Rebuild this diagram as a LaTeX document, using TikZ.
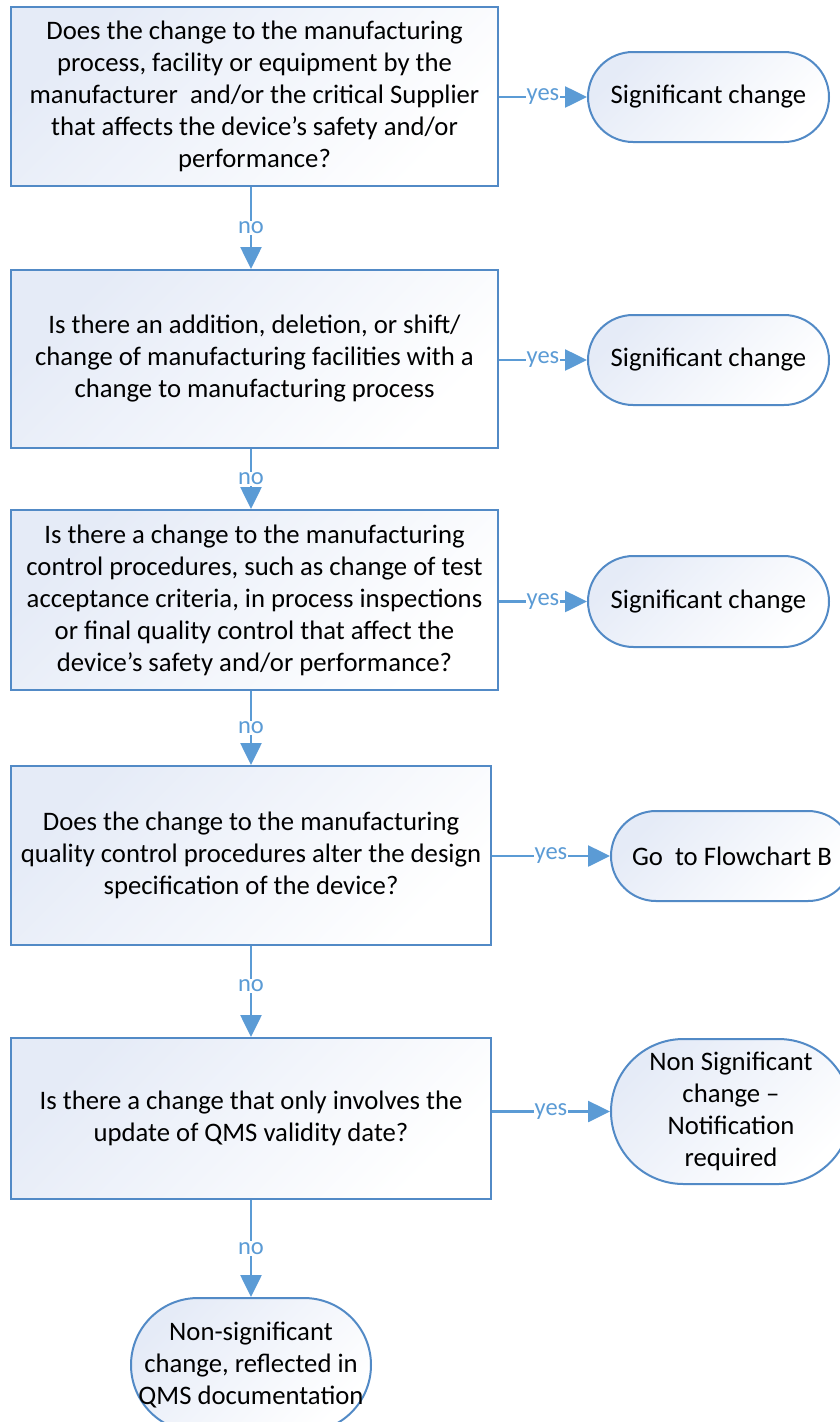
\documentclass[tikz,border=0pt]{standalone}
\usepackage{fontspec}
\setmainfont{Carlito}
\usetikzlibrary{arrows.meta}
\definecolor{linkblue}{RGB}{91,155,213}
\definecolor{edgeblue}{RGB}{82,138,198}
\definecolor{tintblue}{RGB}{229,235,247}

\begin{document}
\begin{tikzpicture}[x=1pt,y=-1pt,
  question/.style={draw=edgeblue, line width=2pt, rectangle,
    top color=tintblue, bottom color=white, shading angle=45,
    align=center, font=\fontsize{26.7}{32}\selectfont, inner sep=0pt},
  % stadium shape: corner radius is half the height
  outcome/.style={draw=edgeblue, line width=2pt, rectangle, rounded corners=#1,
    top color=tintblue, bottom color=white, shading angle=45,
    align=center, font=\fontsize{26.7}{32}\selectfont, inner sep=0pt},
  flow/.style={draw=linkblue, line width=2.6pt, -{Triangle[length=22pt,width=21pt]}},
  tag/.style={fill=white, text=linkblue, font=\fontsize{24.5}{26}\selectfont, inner sep=1pt}
]
\useasboundingbox (0,0) rectangle (840,1422);
\coordinate (spine) at (251,0);

% decision boxes
\node[question, minimum width=487pt, minimum height=179pt] (b1) at (254.5,96.5)
  {Does the change to the manufacturing\\process, facility or equipment by the\\manufacturer\ \ and/or the critical Supplier\\that affects the device’s safety and/or\\performance?};
\node[question, minimum width=487pt, minimum height=178pt] (b2) at (254.5,359)
  {Is there an addition, deletion, or shift/\\change of manufacturing facilities with a\\change to manufacturing process};
\node[question, minimum width=487pt, minimum height=180pt] (b3) at (254.5,600)
  {Is there a change to the manufacturing\\control procedures, such as change of test\\acceptance criteria, in process inspections\\or final quality control that affect the\\device’s safety and/or performance?};
\node[question, minimum width=480pt, minimum height=179pt] (b4) at (251,855.5)
  {Does the change to the manufacturing\\quality control procedures alter the design\\specification of the device?};
\node[question, minimum width=480pt, minimum height=161pt] (b5) at (251,1118.5)
  {Is there a change that only involves the\\update of QMS validity date?};

% outcomes
\node[outcome=45pt, minimum width=241pt, minimum height=90pt] (t1) at (708.5,97) {Significant change};
\node[outcome=45pt, minimum width=241pt, minimum height=90pt] (t2) at (708.5,360) {Significant change};
\node[outcome=45.5pt, minimum width=241pt, minimum height=91pt] (t3) at (708.5,601.5) {Significant change};
\node[outcome=45pt, minimum width=242pt, minimum height=90pt] (t4) at (732,856) {Go\ \ to Flowchart B};
\node[outcome=72.5pt, minimum width=240pt, minimum height=145pt] (t5) at (731,1111.5)
  {Non Significant\\change –\\Notification\\required};
\node[outcome=67pt, minimum width=240pt, minimum height=134pt] (t6) at (251,1365)
  {Non-significant\\change, reflected in\\QMS documentation};

% yes branches
\draw[flow] (b1.east |- t1.west) -- node[tag] {yes} (t1.west);
\draw[flow] (b2.east |- t2.west) -- node[tag] {yes} (t2.west);
\draw[flow] (b3.east |- t3.west) -- node[tag] {yes} (t3.west);
\draw[flow] (b4.east |- t4.west) -- node[tag] {yes} (t4.west);
\draw[flow] (b5.east |- t5.west) -- node[tag] {yes} (t5.west);

% no branches
\draw[flow] (b1.south -| spine) -- node[tag] {no} (b2.north -| spine);
\draw[flow] (b2.south -| spine) -- node[tag] {no} (b3.north -| spine);
\draw[flow] (b3.south -| spine) -- node[tag] {no} (b4.north -| spine);
\draw[flow] (b4.south -| spine) -- node[tag, pos=0.44] {no} (b5.north -| spine);
\draw[flow] (b5.south -| spine) -- node[tag] {no} (t6.north);
\end{tikzpicture}
\end{document}
